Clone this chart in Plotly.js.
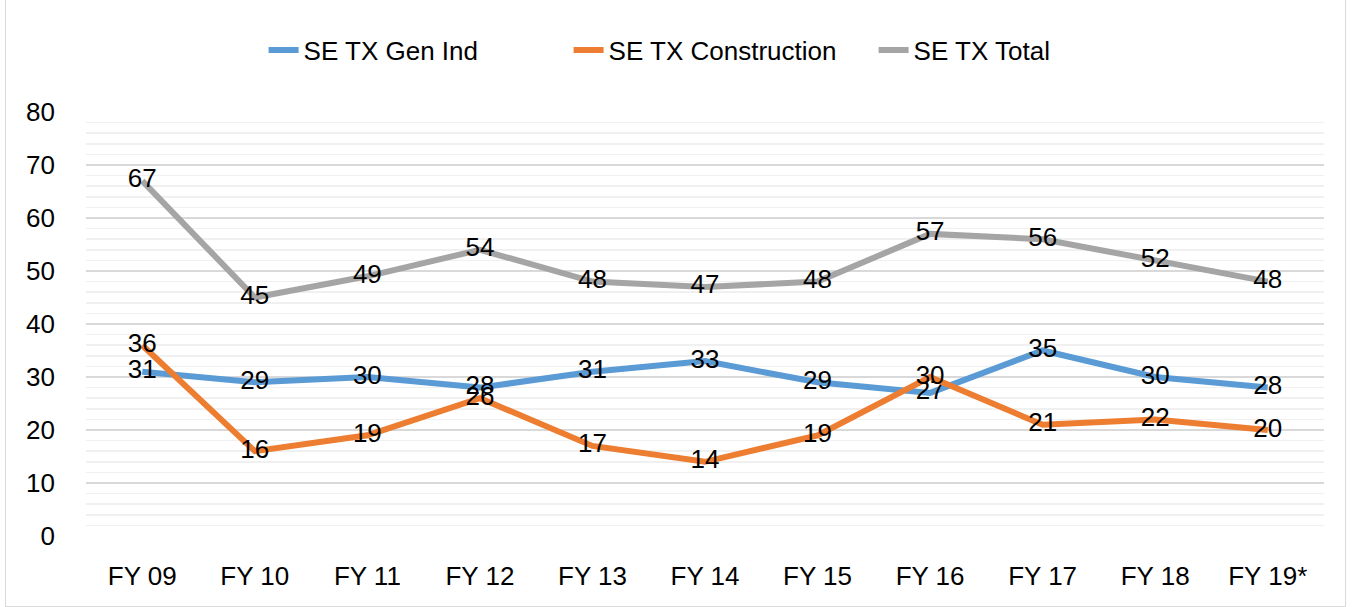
<!DOCTYPE html>
<html>
<head>
<meta charset="utf-8">
<script src="https://cdn.plot.ly/plotly-3.0.1.min.js"></script>
<style>
html,body{margin:0;padding:0;background:#fff;}
#wrap{position:relative;width:1352px;height:607px;}
#chart{width:1352px;height:607px;}
#frame{position:absolute;left:5px;top:-1px;width:1339px;height:606px;border:1px solid #d9d9d9;pointer-events:none;}
</style>
</head>
<body>
<div id="wrap"><div id="chart"></div><div id="frame"></div></div>
<script>
const categories = ["FY 09","FY 10","FY 11","FY 12","FY 13","FY 14","FY 15","FY 16","FY 17","FY 18","FY 19*"];
const genInd = [31,29,30,28,31,33,29,27,35,30,28];
const construction = [36,16,19,26,17,14,19,30,21,22,20];
const total = [67,45,49,54,48,47,48,57,56,52,48];
const seriesNames = ["SE TX Gen Ind","SE TX Construction","SE TX Total"];
const colors = ["#5b9bd5","#ed7d31","#a5a5a5"];
const font = "Liberation Sans, Arial, sans-serif";

const data = [genInd, construction, total].map((vals, i) => ({
  type: "scatter",
  mode: "lines+text",
  x: categories,
  y: vals,
  name: seriesNames[i],
  text: vals.map(String),
  textposition: "middle center",
  textfont: {family: font, size: 26, color: "#000"},
  line: {color: colors[i], width: 6},
  cliponaxis: false
}));

const layout = {
  width: 1352, height: 607,
  margin: {l: 86, r: 28, t: 112, b: 71},
  paper_bgcolor: "#fff", plot_bgcolor: "#fff",
  font: {family: font, size: 26, color: "#000"},
  showlegend: true,
  legend: {
    orientation: "h", x: 0.513, xanchor: "center", y: 1.146, yanchor: "middle",
    font: {family: font, size: 26, color: "#000"},
    entrywidth: 260, entrywidthmode: "pixels"
  },
  xaxis: {
    type: "category", showgrid: false, zeroline: false, showline: false,
    ticks: "", tickfont: {family: font, size: 26}, ticklabelstandoff: 22,
    range: [-0.5, 10.5]
  },
  yaxis: {
    range: [0, 80], dtick: 10, tick0: 0, showline: false, zeroline: false,
    gridcolor: "#d9d9d9", gridwidth: 1.5, ticks: "",
    tickfont: {family: font, size: 26}, ticklabelstandoff: 30,
    minor: {dtick: 2, showgrid: true, gridcolor: "#f0f0f0", gridwidth: 1.5}
  }
};

Plotly.newPlot("chart", data, layout, {displayModeBar: false, staticPlot: true});
</script>
</body>
</html>
